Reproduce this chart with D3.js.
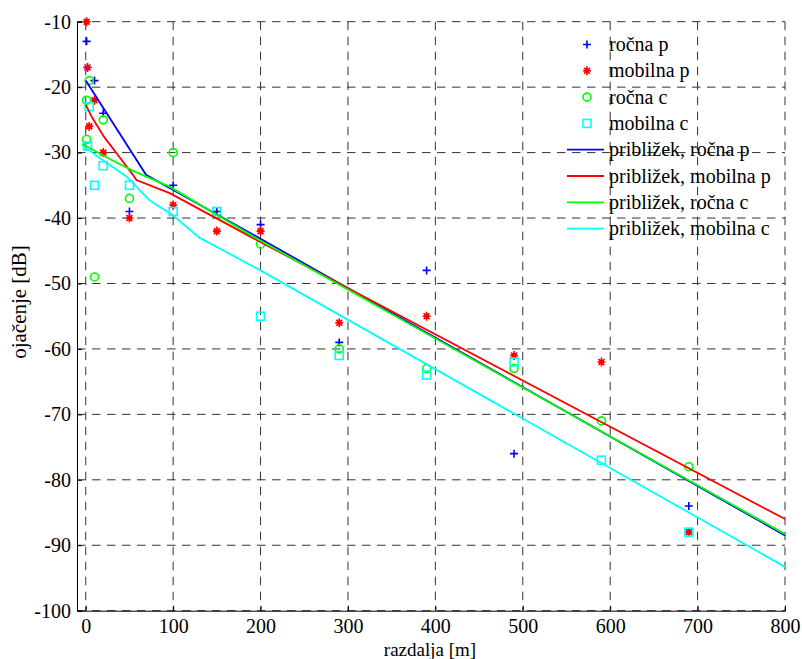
<!DOCTYPE html>
<html><head><meta charset="utf-8">
<script src="https://cdn.jsdelivr.net/npm/d3@7"></script>
<style>body{margin:0;background:#fff}svg{display:block}svg text{font-family:"Liberation Serif","Times New Roman",Times,"DejaVu Serif",serif;fill:#000}</style>
</head><body><svg id="c" width="802" height="659"></svg>
<script>
const xTicks=[0,100,200,300,400,500,600,700,800];
const yTicks=[-10,-20,-30,-40,-50,-60,-70,-80,-90,-100];
// measured points
const rocnaPX=[1,2,10,20,50,100,150,200,290,390,490,690];
const rocnaPY=[-13,-17,-19,-24,-39,-35,-39,-41,-59,-48,-76,-84];
const mobilnaPX=[1,2,4,10,20,50,100,150,200,290,390,490,590,690];
const mobilnaPY=[-10,-17,-26,-22,-30,-40,-38,-42,-42,-56,-55,-61,-62,-88];
const rocnaCX=[4,1,1,20,10,50,100,200,290,390,490,590,690];
const rocnaCY=[-19,-22,-28,-25,-49,-37,-30,-44,-60,-63,-63,-71,-78];
const mobilnaCX=[4,2,10,20,50,100,150,200,290,390,490,590,690];
const mobilnaCY=[-23,-29,-35,-32,-35,-39,-39,-55,-61,-64,-62,-77,-88];
// fitted curves
const fitRocnaPX=[0,69,199,800];
const fitRocnaPY=[-19,-33.4,-43.1,-88.5];
const fitMobilnaPX=[0,8,21,37,54,58,96,199,800];
const fitMobilnaPY=[-22.7,-24.8,-27.6,-30.4,-33.4,-34.2,-36.2,-43.6,-86];
const fitRocnaCX=[-4,29,56,96,199,800];
const fitRocnaCY=[-28.7,-31.1,-32.9,-35.2,-43.4,-88.3];
const fitMobilnaCX=[-4,20,47,73,99,130,200,800];
const fitMobilnaCY=[-28.9,-31.2,-33.7,-37.3,-39.5,-43,-48,-93.3];
const legendLabels=["ročna p","mobilna p","ročna c","mobilna c","približek, ročna p","približek, mobilna p","približek, ročna c","približek, mobilna c"];

const FONT='"Liberation Serif","Times New Roman",Times,"DejaVu Serif",serif';
const svg=d3.select("#c");
const x=d3.scaleLinear().domain([-10,800]).range([77,785]);
const y=d3.scaleLinear().domain([-100,-10]).range([610.7,21.7]);
const gridCol="#333";
// grid
const g=svg.append("g");
g.selectAll("line.vx").data(xTicks).join("line").attr("x1",d=>x(d)).attr("x2",d=>x(d)).attr("y1",y(-10)).attr("y2",y(-100))
 .attr("stroke",gridCol).attr("stroke-dasharray","8.5,6.5").attr("stroke-width",1);
g.selectAll("line.hy").data(yTicks).join("line").attr("y1",d=>y(d)).attr("y2",d=>y(d)).attr("x1",x(-10)).attr("x2",x(800))
 .attr("stroke",gridCol).attr("stroke-dasharray","8.5,6.5").attr("stroke-width",1);
// axes
const xa=d3.axisBottom(x).tickValues(xTicks).tickSize(-5).tickPadding(8).tickFormat(d=>String(d));
const ya=d3.axisLeft(y).tickValues(yTicks).tickSize(-5).tickPadding(6).tickFormat(d=>String(d));
const gx=svg.append("g").attr("transform",`translate(0,${y(-100)})`).call(xa);
const gy=svg.append("g").attr("transform",`translate(${x(-10)},0)`).call(ya);
[gx,gy].forEach(a=>{a.attr("font-family",FONT).attr("font-size",20);
 a.select(".domain").attr("stroke","#000").attr("stroke-width",1);
 a.selectAll(".tick line").attr("stroke","#000");
 a.selectAll(".tick text").attr("font-family",FONT).attr("font-size",20).attr("fill","#000");});
// labels
svg.append("text").attr("x",430).attr("y",656).attr("text-anchor","middle").attr("font-family",FONT).attr("font-size",19).text("razdalja [m]");
svg.append("text").attr("transform","translate(26,302) rotate(-90)").attr("text-anchor","middle").attr("font-family",FONT).attr("font-size",21).text("ojačenje [dB]");

// markers
const plot=svg.append("g");
function plus(sel,cx,cy,col){sel.append("path").attr("d",`M${cx-4},${cy}H${cx+4}M${cx},${cy-4}V${cy+4}`).attr("stroke",col).attr("stroke-width",1.6).attr("fill","none");}
function star(sel,cx,cy,col){sel.append("path").attr("d",`M${cx-4},${cy}H${cx+4}M${cx},${cy-4.5}V${cy+4.5}M${cx-3},${cy-3}L${cx+3},${cy+3}M${cx-3},${cy+3}L${cx+3},${cy-3}`).attr("stroke",col).attr("stroke-width",1.6).attr("fill","none");
 sel.append("circle").attr("cx",cx).attr("cy",cy).attr("r",2.6).attr("fill",col);}
function circ(sel,cx,cy,col){sel.append("circle").attr("cx",cx).attr("cy",cy).attr("r",4).attr("stroke",col).attr("stroke-width",1.6).attr("fill","none");}
function sq(sel,cx,cy,col){sel.append("rect").attr("x",cx-4).attr("y",cy-4).attr("width",8).attr("height",8).attr("stroke",col).attr("stroke-width",1.6).attr("fill","none");}
const series=[
 {X:rocnaPX,Y:rocnaPY,col:"#0000ff",f:plus},
 {X:mobilnaPX,Y:mobilnaPY,col:"#ff0000",f:star},
 {X:rocnaCX,Y:rocnaCY,col:"#00ff00",f:circ},
 {X:mobilnaCX,Y:mobilnaCY,col:"#00ffff",f:sq}];
series.forEach(s=>s.X.forEach((v,i)=>s.f(plot,x(v),y(s.Y[i]),s.col)));
const fits=[
 {X:fitRocnaPX,Y:fitRocnaPY,col:"#0000ff"},
 {X:fitMobilnaPX,Y:fitMobilnaPY,col:"#ff0000"},
 {X:fitRocnaCX,Y:fitRocnaCY,col:"#00ff00"},
 {X:fitMobilnaCX,Y:fitMobilnaCY,col:"#00ffff"}];
const line=d3.line().x(d=>x(d[0])).y(d=>y(d[1]));
fits.forEach(f=>plot.append("path").attr("d",line(f.X.map((v,i)=>[v,f.Y[i]]))).attr("fill","none").attr("stroke",f.col).attr("stroke-width",1.8));

// legend
const lg=svg.append("g");
legendLabels.forEach((t,i)=>{
 const yy=44.5+i*26.3;
 if(i<4){series[i].f(lg,587,yy,series[i].col);}
 else{lg.append("line").attr("x1",567).attr("x2",604).attr("y1",yy).attr("y2",yy).attr("stroke",fits[i-4].col).attr("stroke-width",1.8);}
 lg.append("text").attr("x",609).attr("y",yy).attr("dy","0.33em").attr("font-family",FONT).attr("font-size",20).text(t);
});
</script></body></html>
